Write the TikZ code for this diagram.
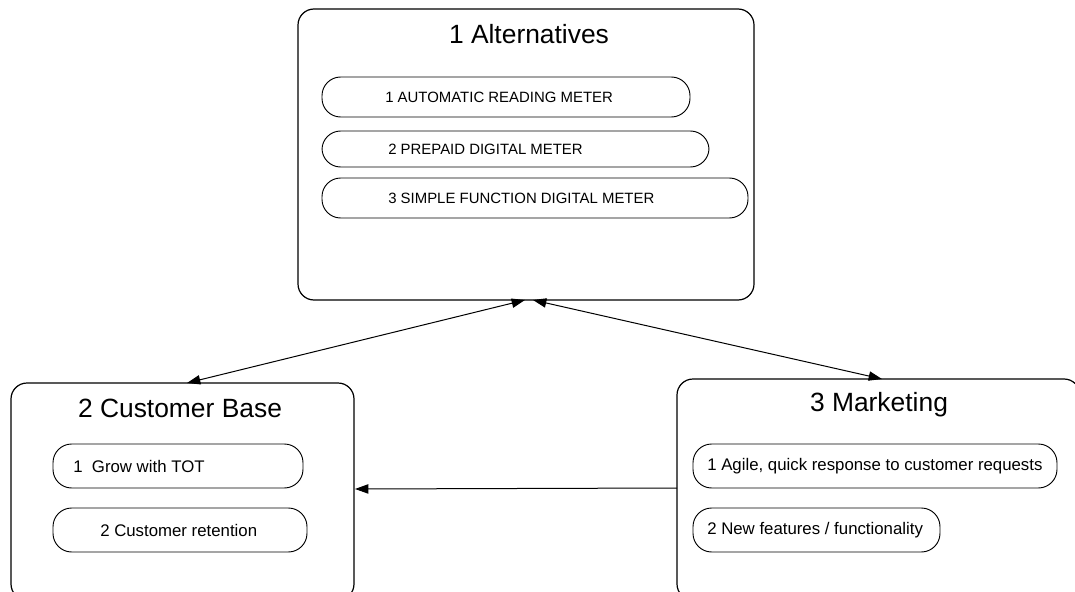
\documentclass[tikz,border=0pt]{standalone}
\usepackage{fontspec}
\setmainfont{Liberation Sans}
\usetikzlibrary{arrows.meta}
\begin{document}
\begin{tikzpicture}[x=0.75pt,y=-0.75pt,
  bigbox/.style={draw, line width=0.9pt, rounded corners=12pt, inner sep=0pt, outer sep=0pt, anchor=north west},
  pill/.style={draw, line width=0.7pt, rounded corners=14pt, inner sep=0pt, outer sep=0pt, anchor=north west},
  ttl/.style={font=\fontsize{19.8}{23}\selectfont, inner sep=0pt},
  itm/.style={font=\fontsize{11.2}{13}\selectfont, inner sep=0pt, anchor=west},
  itmb/.style={font=\fontsize{12.6}{15}\selectfont, inner sep=0pt, anchor=west},
  conn/.style={line width=0.75pt, {Triangle[length=10pt,width=7pt]}-{Triangle[length=10pt,width=7pt]}},
  conn1/.style={line width=0.75pt, -{Triangle[length=10pt,width=7pt]}}]
\useasboundingbox (0,0) rectangle (1075,592);
\clip (0,0) rectangle (1075,592);
% boxes
\node[bigbox, minimum width=342pt, minimum height=218.25pt] (alt) at (298,9) {};
\node[bigbox, minimum width=257.25pt, minimum height=162.75pt] (cust) at (11,383) {};
\node[bigbox, minimum width=302.25pt, minimum height=165.75pt] (mkt) at (677,379) {};
% titles
\node[ttl] (altT) at (529,34) {1 Alternatives};
\node[ttl] (custT) at (180,408) {2 Customer Base};
\node[ttl] (mktT) at (879,405) {3 Marketing};
% pills
\node[pill, minimum width=276pt, minimum height=30pt] (a1) at (322,77) {};
\node[pill, minimum width=290.25pt, minimum height=27pt] (a2) at (322,131) {};
\node[pill, minimum width=319.5pt, minimum height=30pt] (a3) at (322,178) {};
\node[pill, minimum width=187.5pt, minimum height=33pt] (c1) at (53,444) {};
\node[pill, minimum width=190.5pt, minimum height=33pt] (c2) at (53,508) {};
\node[pill, minimum width=273pt, minimum height=33pt] (m1) at (693,444) {};
\node[pill, minimum width=185.25pt, minimum height=33pt] (m2) at (693,508) {};
% item texts
\node[itm] (a1t) at (385,97) {1 AUTOMATIC READING METER};
\node[itm] (a2t) at (388,149) {2 PREPAID DIGITAL METER};
\node[itm] (a3t) at (388,198) {3 SIMPLE FUNCTION DIGITAL METER};
\node[itmb] (c1t) at (73,466) {1\ \ Grow with TOT};
\node[itmb] (c2t) at (100,530) {2 Customer retention};
\node[itmb] (m1t) at (707,466) {1 Agile, quick response to customer requests};
\node[itmb] (m2t) at (707,530) {2 New features / functionality};
% connector end points
\coordinate (p1) at (525,300);
\coordinate (p2) at (187,383);
\coordinate (p3) at (533,300);
\coordinate (p4) at (882,379);
\coordinate (p5) at (677,488);
\coordinate (p6) at (355,489);
\draw[conn] (p1) -- (p2);
\draw[conn] (p3) -- (p4);
\draw[conn1] (p5) -- (p6);
\end{tikzpicture}
\end{document}
